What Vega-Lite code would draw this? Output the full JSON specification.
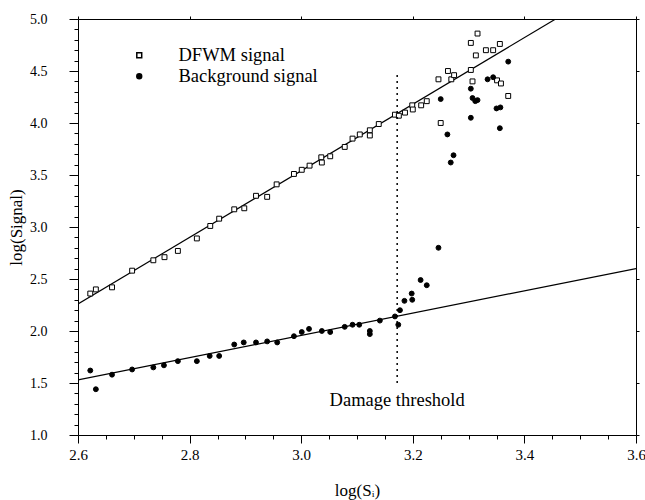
{
  "$schema": "https://vega.github.io/schema/vega-lite/v6.json",
  "width": 558,
  "height": 416,
  "autosize": {"type": "none"},
  "padding": {"left": 78, "top": 19, "right": 9, "bottom": 65},
  "background": "white",
  "config": {
    "view": {"stroke": null},
    "font": "Liberation Serif",
    "style": {
      "guide-label": {"font": "Liberation Serif", "fill": "black"},
      "guide-title": {"font": "Liberation Serif", "fill": "black", "fontWeight": "normal"}
    },
    "axis": {
      "grid": false,
      "domainColor": "black",
      "domainWidth": 1,
      "tickColor": "black",
      "labelColor": "black",
      "titleColor": "black",
      "labelFont": "Liberation Serif",
      "titleFont": "Liberation Serif",
      "titleFontWeight": "normal",
      "labelFontSize": 15,
      "titleFontSize": 16
    }
  },
  "datasets": {
    "points": [
      {"x": 2.622, "y": 2.36, "series": "DFWM signal"},
      {"x": 2.632, "y": 2.40, "series": "DFWM signal"},
      {"x": 2.661, "y": 2.42, "series": "DFWM signal"},
      {"x": 2.697, "y": 2.58, "series": "DFWM signal"},
      {"x": 2.735, "y": 2.68, "series": "DFWM signal"},
      {"x": 2.755, "y": 2.71, "series": "DFWM signal"},
      {"x": 2.779, "y": 2.77, "series": "DFWM signal"},
      {"x": 2.813, "y": 2.89, "series": "DFWM signal"},
      {"x": 2.837, "y": 3.01, "series": "DFWM signal"},
      {"x": 2.853, "y": 3.08, "series": "DFWM signal"},
      {"x": 2.880, "y": 3.17, "series": "DFWM signal"},
      {"x": 2.898, "y": 3.18, "series": "DFWM signal"},
      {"x": 2.919, "y": 3.30, "series": "DFWM signal"},
      {"x": 2.939, "y": 3.29, "series": "DFWM signal"},
      {"x": 2.956, "y": 3.41, "series": "DFWM signal"},
      {"x": 2.987, "y": 3.51, "series": "DFWM signal"},
      {"x": 3.001, "y": 3.55, "series": "DFWM signal"},
      {"x": 3.015, "y": 3.59, "series": "DFWM signal"},
      {"x": 3.036, "y": 3.67, "series": "DFWM signal"},
      {"x": 3.037, "y": 3.62, "series": "DFWM signal"},
      {"x": 3.052, "y": 3.68, "series": "DFWM signal"},
      {"x": 3.078, "y": 3.77, "series": "DFWM signal"},
      {"x": 3.092, "y": 3.85, "series": "DFWM signal"},
      {"x": 3.105, "y": 3.89, "series": "DFWM signal"},
      {"x": 3.123, "y": 3.93, "series": "DFWM signal"},
      {"x": 3.123, "y": 3.88, "series": "DFWM signal"},
      {"x": 3.139, "y": 3.99, "series": "DFWM signal"},
      {"x": 3.168, "y": 4.08, "series": "DFWM signal"},
      {"x": 3.175, "y": 4.07, "series": "DFWM signal"},
      {"x": 3.186, "y": 4.10, "series": "DFWM signal"},
      {"x": 3.199, "y": 4.17, "series": "DFWM signal"},
      {"x": 3.200, "y": 4.13, "series": "DFWM signal"},
      {"x": 3.215, "y": 4.17, "series": "DFWM signal"},
      {"x": 3.225, "y": 4.21, "series": "DFWM signal"},
      {"x": 3.246, "y": 4.42, "series": "DFWM signal"},
      {"x": 3.250, "y": 4.00, "series": "DFWM signal"},
      {"x": 3.263, "y": 4.50, "series": "DFWM signal"},
      {"x": 3.269, "y": 4.42, "series": "DFWM signal"},
      {"x": 3.274, "y": 4.46, "series": "DFWM signal"},
      {"x": 3.304, "y": 4.51, "series": "DFWM signal"},
      {"x": 3.307, "y": 4.40, "series": "DFWM signal"},
      {"x": 3.304, "y": 4.77, "series": "DFWM signal"},
      {"x": 3.316, "y": 4.86, "series": "DFWM signal"},
      {"x": 3.313, "y": 4.65, "series": "DFWM signal"},
      {"x": 3.331, "y": 4.70, "series": "DFWM signal"},
      {"x": 3.344, "y": 4.70, "series": "DFWM signal"},
      {"x": 3.356, "y": 4.76, "series": "DFWM signal"},
      {"x": 3.351, "y": 4.41, "series": "DFWM signal"},
      {"x": 3.358, "y": 4.38, "series": "DFWM signal"},
      {"x": 3.371, "y": 4.26, "series": "DFWM signal"},
      {"x": 2.622, "y": 1.62, "series": "Background signal"},
      {"x": 2.632, "y": 1.44, "series": "Background signal"},
      {"x": 2.661, "y": 1.58, "series": "Background signal"},
      {"x": 2.697, "y": 1.63, "series": "Background signal"},
      {"x": 2.735, "y": 1.65, "series": "Background signal"},
      {"x": 2.754, "y": 1.67, "series": "Background signal"},
      {"x": 2.779, "y": 1.71, "series": "Background signal"},
      {"x": 2.813, "y": 1.71, "series": "Background signal"},
      {"x": 2.836, "y": 1.76, "series": "Background signal"},
      {"x": 2.853, "y": 1.76, "series": "Background signal"},
      {"x": 2.880, "y": 1.87, "series": "Background signal"},
      {"x": 2.897, "y": 1.89, "series": "Background signal"},
      {"x": 2.919, "y": 1.89, "series": "Background signal"},
      {"x": 2.939, "y": 1.90, "series": "Background signal"},
      {"x": 2.957, "y": 1.89, "series": "Background signal"},
      {"x": 2.987, "y": 1.95, "series": "Background signal"},
      {"x": 3.001, "y": 1.99, "series": "Background signal"},
      {"x": 3.014, "y": 2.02, "series": "Background signal"},
      {"x": 3.037, "y": 2.00, "series": "Background signal"},
      {"x": 3.052, "y": 1.99, "series": "Background signal"},
      {"x": 3.078, "y": 2.04, "series": "Background signal"},
      {"x": 3.092, "y": 2.06, "series": "Background signal"},
      {"x": 3.104, "y": 2.06, "series": "Background signal"},
      {"x": 3.123, "y": 2.00, "series": "Background signal"},
      {"x": 3.123, "y": 1.97, "series": "Background signal"},
      {"x": 3.141, "y": 2.10, "series": "Background signal"},
      {"x": 3.168, "y": 2.14, "series": "Background signal"},
      {"x": 3.174, "y": 2.06, "series": "Background signal"},
      {"x": 3.177, "y": 2.20, "series": "Background signal"},
      {"x": 3.185, "y": 2.29, "series": "Background signal"},
      {"x": 3.198, "y": 2.36, "series": "Background signal"},
      {"x": 3.199, "y": 2.30, "series": "Background signal"},
      {"x": 3.214, "y": 2.49, "series": "Background signal"},
      {"x": 3.225, "y": 2.44, "series": "Background signal"},
      {"x": 3.246, "y": 2.80, "series": "Background signal"},
      {"x": 3.250, "y": 4.23, "series": "Background signal"},
      {"x": 3.262, "y": 3.89, "series": "Background signal"},
      {"x": 3.268, "y": 3.62, "series": "Background signal"},
      {"x": 3.273, "y": 3.69, "series": "Background signal"},
      {"x": 3.304, "y": 4.33, "series": "Background signal"},
      {"x": 3.307, "y": 4.24, "series": "Background signal"},
      {"x": 3.312, "y": 4.21, "series": "Background signal"},
      {"x": 3.316, "y": 4.22, "series": "Background signal"},
      {"x": 3.304, "y": 4.05, "series": "Background signal"},
      {"x": 3.334, "y": 4.42, "series": "Background signal"},
      {"x": 3.344, "y": 4.44, "series": "Background signal"},
      {"x": 3.350, "y": 4.14, "series": "Background signal"},
      {"x": 3.357, "y": 4.15, "series": "Background signal"},
      {"x": 3.356, "y": 3.95, "series": "Background signal"},
      {"x": 3.371, "y": 4.59, "series": "Background signal"}
    ],
    "fits": [
      {"x": 2.6, "y": 2.26, "fit": "DFWM"},
      {"x": 3.456, "y": 5.0, "fit": "DFWM"},
      {"x": 2.6, "y": 1.53, "fit": "Background"},
      {"x": 3.6, "y": 2.60, "fit": "Background"}
    ],
    "threshold": [
      {"x": 3.172, "y": 1.5, "y2": 4.48}
    ],
    "labels": [
      {"x": 3.172, "y": 1.34, "text": "Damage threshold"}
    ]
  },
  "resolve": {"axis": {"x": "independent", "y": "independent"}},
  "layer": [
    {
      "data": {"name": "fits"},
      "mark": {"type": "line", "color": "black", "strokeWidth": 1.2, "clip": true},
      "encoding": {
        "x": {
          "field": "x", "type": "quantitative",
          "scale": {"domain": [2.6, 3.6], "nice": false, "zero": false},
          "axis": {
            "orient": "bottom",
            "values": [2.6, 2.65, 2.7, 2.75, 2.8, 2.85, 2.9, 2.95, 3.0, 3.05, 3.1, 3.15, 3.2, 3.25, 3.3, 3.35, 3.4, 3.45, 3.5, 3.55, 3.6],
            "labelExpr": "abs(datum.value*5 - round(datum.value*5)) < 0.001 ? format(datum.value, '.1f') : ''",
            "tickSize": {"condition": {"test": "abs(datum.value*5 - round(datum.value*5)) < 0.001", "value": 8}, "value": 4},
            "labelFont": "Liberation Serif",
            "labelFontSize": 15,
            "labelFlush": false,
            "labelOverlap": false,
            "labelPadding": 4,
            "title": "log(Sᵢ)",
            "titleFont": "Liberation Serif",
            "titleFontSize": 17,
            "titlePadding": 20
          }
        },
        "y": {
          "field": "y", "type": "quantitative",
          "scale": {"domain": [1.0, 5.0], "nice": false, "zero": false},
          "axis": {
            "orient": "left",
            "values": [1.0, 1.1, 1.2, 1.3, 1.4, 1.5, 1.6, 1.7, 1.8, 1.9, 2.0, 2.1, 2.2, 2.3, 2.4, 2.5, 2.6, 2.7, 2.8, 2.9, 3.0, 3.1, 3.2, 3.3, 3.4, 3.5, 3.6, 3.7, 3.8, 3.9, 4.0, 4.1, 4.2, 4.3, 4.4, 4.5, 4.6, 4.7, 4.8, 4.9, 5.0],
            "labelExpr": "abs(datum.value*2 - round(datum.value*2)) < 0.001 ? format(datum.value, '.1f') : ''",
            "tickSize": {"condition": {"test": "abs(datum.value*2 - round(datum.value*2)) < 0.001", "value": 9}, "value": 4},
            "labelFont": "Liberation Serif",
            "labelFontSize": 14,
            "labelFlush": false,
            "labelOverlap": false,
            "labelPadding": 22,
            "title": "log(Signal)",
            "titleFont": "Liberation Serif",
            "titleFontSize": 17,
            "titleX": -62,
            "titleBaseline": "middle"
          }
        },
        "detail": {"field": "fit"}
      }
    },
    {
      "data": {"name": "points"},
      "mark": {"type": "point", "filled": true, "stroke": "black", "strokeWidth": 1, "size": 24, "opacity": 1},
      "encoding": {
        "x": {
          "field": "x", "type": "quantitative",
          "axis": {
            "orient": "top",
            "values": [2.6, 2.8, 3.0, 3.2, 3.4, 3.6],
            "labels": false,
            "tickSize": 3,
            "title": null
          }
        },
        "y": {
          "field": "y", "type": "quantitative",
          "axis": {
            "orient": "right",
            "values": [1.0, 1.5, 2.0, 2.5, 3.0, 3.5, 4.0, 4.5, 5.0],
            "labels": false,
            "tickSize": 3,
            "title": null
          }
        },
        "shape": {
          "field": "series", "type": "nominal",
          "scale": {"domain": ["DFWM signal", "Background signal"], "range": ["square", "circle"]},
          "legend": {"title": null, "orient": "none", "legendX": 52, "legendY": 27, "labelFontSize": 18.5, "labelFont": "Liberation Serif", "labelColor": "black", "labelOffset": 30, "rowPadding": 2, "symbolSize": 24,
            "encode": {"symbols": {"update": {"stroke": {"value": "black"}, "strokeWidth": {"value": 1}}}}}
        },
        "fill": {
          "field": "series", "type": "nominal",
          "scale": {"domain": ["DFWM signal", "Background signal"], "range": ["white", "black"]},
          "legend": {"title": null, "orient": "none", "legendX": 52, "legendY": 27, "labelFontSize": 18.5, "labelFont": "Liberation Serif", "labelColor": "black", "labelOffset": 30, "rowPadding": 2, "symbolSize": 24,
            "encode": {"symbols": {"update": {"stroke": {"value": "black"}, "strokeWidth": {"value": 1}}}}}
        }
      }
    },
    {
      "data": {"name": "threshold"},
      "mark": {"type": "rule", "color": "black", "strokeWidth": 1.5, "strokeDash": [2, 4]},
      "encoding": {
        "x": {"field": "x", "type": "quantitative", "axis": null},
        "y": {"field": "y", "type": "quantitative", "axis": null},
        "y2": {"field": "y2"}
      }
    },
    {
      "data": {"name": "labels"},
      "mark": {"type": "text", "font": "Liberation Serif", "fontSize": 18.5, "color": "black", "align": "center", "baseline": "middle"},
      "encoding": {
        "x": {"field": "x", "type": "quantitative", "axis": null},
        "y": {"field": "y", "type": "quantitative", "axis": null},
        "text": {"field": "text"}
      }
    }
  ]
}
